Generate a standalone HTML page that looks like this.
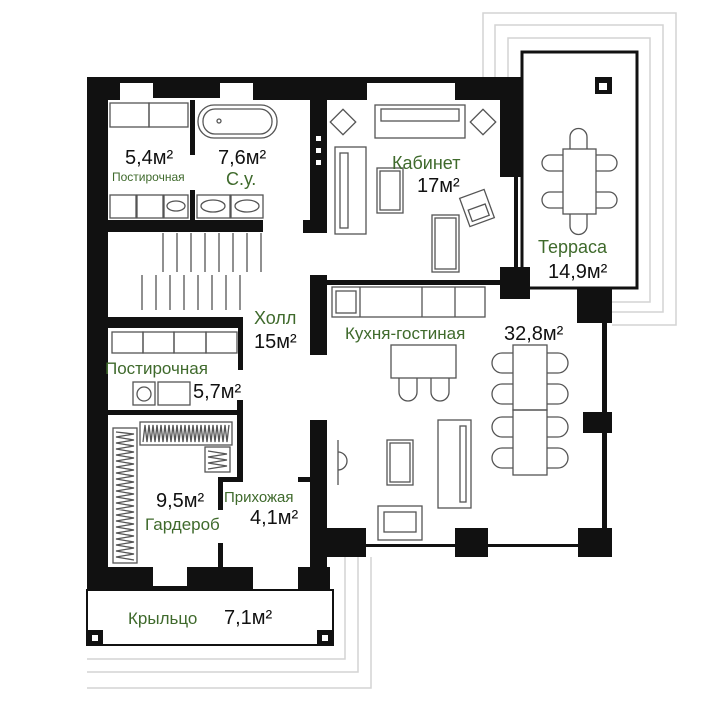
<!DOCTYPE html>
<html><head><meta charset="utf-8"><style>
html,body{margin:0;padding:0;background:#fff;}
svg{display:block;}
text{font-family:"Liberation Sans","DejaVu Sans",sans-serif;}
.g{fill:#3f6a2c;}
.k{fill:#111;}
</style></head><body>
<svg width="725" height="702" viewBox="0 0 725 702" xmlns="http://www.w3.org/2000/svg">
<g fill="none" stroke="#d4d4d4" stroke-width="1.5">
<path d="M483 77 V13 H676 V325 H612"/>
<path d="M495 77 V25 H663 V312 H612"/>
<path d="M508 77 V38 H650 V302 H612"/>
<path d="M87 659 H345 V557"/>
<path d="M87 672 H358 V557"/>
<path d="M87 688 H371 V557"/>
</g>
<g fill="#111">
<rect x="87" y="77" width="435" height="6"/>
<rect x="87" y="77" width="33" height="23"/>
<rect x="153" y="77" width="67" height="21"/>
<rect x="253" y="77" width="114" height="23"/>
<rect x="455" y="77" width="67" height="23"/>
<rect x="87" y="77" width="21" height="514"/>
<rect x="190" y="100" width="5" height="55"/>
<rect x="190" y="190" width="5" height="30"/>
<rect x="107" y="220" width="156" height="12"/>
<rect x="310" y="100" width="17" height="133"/>
<rect x="303" y="220" width="24" height="13"/>
<rect x="500" y="77" width="22" height="100"/>
<rect x="514" y="177" width="4" height="92"/>
<rect x="500" y="267" width="30" height="32"/>
<rect x="522" y="52" width="115" height="236" fill="none" stroke="#111" stroke-width="3"/>
<rect x="577" y="288" width="35" height="35"/>
<rect x="602" y="300" width="5" height="250"/>
<rect x="583" y="412" width="29" height="21"/>
<rect x="595" y="77" width="17" height="17"/>
<rect x="107" y="317" width="136" height="11"/>
<rect x="238" y="317" width="5" height="53"/>
<rect x="310" y="275" width="17" height="80"/>
<rect x="310" y="280" width="190" height="5"/>
<rect x="108" y="410" width="135" height="5"/>
<rect x="237" y="400" width="6" height="78"/>
<rect x="218" y="477" width="25" height="5"/>
<rect x="218" y="477" width="5" height="33"/>
<rect x="218" y="543" width="5" height="25"/>
<rect x="90" y="567" width="63" height="24"/>
<rect x="187" y="567" width="66" height="24"/>
<rect x="153" y="586" width="34" height="3"/>
<rect x="310" y="420" width="17" height="171"/>
<rect x="298" y="477" width="12" height="5"/>
<rect x="298" y="567" width="32" height="24"/>
<rect x="326" y="544" width="286" height="3"/>
<rect x="326" y="528" width="40" height="29"/>
<rect x="455" y="528" width="33" height="29"/>
<rect x="578" y="528" width="34" height="29"/>
<rect x="87" y="590" width="246" height="55" fill="none" stroke="#111" stroke-width="2"/>
<rect x="87" y="630" width="16" height="16"/>
<rect x="317" y="630" width="16" height="16"/>
</g>
<g fill="#fff">
<rect x="599" y="83" width="8" height="7"/>
<rect x="92" y="635" width="6" height="6"/>
<rect x="322" y="635" width="6" height="6"/>
<rect x="316" y="136" width="5" height="5"/><rect x="316" y="148" width="5" height="5"/><rect x="316" y="160" width="5" height="5"/>
<rect x="493" y="287" width="5" height="5"/><rect x="493" y="297" width="5" height="5"/>
</g>
<g fill="none" stroke="#555" stroke-width="1.3">
<rect x="110" y="103" width="39" height="24"/><rect x="149" y="103" width="39" height="24"/>
<rect x="198" y="105" width="79" height="33" rx="16"/><rect x="203" y="109" width="69" height="25" rx="12"/>
<circle cx="219" cy="121" r="2"/>
<rect x="110" y="195" width="26" height="23"/><rect x="137" y="195" width="26" height="23"/><rect x="164" y="195" width="24" height="23"/>
<ellipse cx="176" cy="206" rx="9" ry="5"/>
<rect x="197" y="195" width="33" height="23"/><rect x="231" y="195" width="32" height="23"/>
<ellipse cx="213" cy="206" rx="12" ry="6"/><ellipse cx="247" cy="206" rx="12" ry="6"/>
<path d="M163 233V272M177 233V272M191 233V272M205 233V272M219 233V272M233 233V272M247 233V272M261 233V272"/>
<path d="M142 275V310M156 275V310M170 275V310M184 275V310M198 275V310M212 275V310M226 275V310M240 275V310"/>
<rect x="375" y="105" width="90" height="33"/><rect x="381" y="109" width="78" height="12"/>
<rect x="335" y="147" width="31" height="87"/><rect x="340" y="153" width="8" height="75"/>
<rect x="334" y="113" width="18" height="18" transform="rotate(45 343 122)"/>
<rect x="474" y="113" width="18" height="18" transform="rotate(45 483 122)"/>
<rect x="377" y="168" width="26" height="45"/><rect x="380" y="171" width="20" height="39"/>
<rect x="432" y="215" width="27" height="57"/><rect x="435" y="218" width="21" height="51"/>
<g transform="rotate(-20 477 208)"><rect x="464" y="193" width="26" height="30"/><rect x="468" y="207" width="18" height="12"/></g>
<rect x="563" y="149" width="33" height="65"/>
<path d="M570 149V137a8.5 8.5 0 0 1 17 0V149"/><path d="M570 214V226a8.5 8.5 0 0 0 17 0V214"/>
<path d="M563 155H550a8 8 0 0 0 0 16H563"/><path d="M563 192H550a8 8 0 0 0 0 16H563"/>
<path d="M596 155H609a8 8 0 0 1 0 16H596"/><path d="M596 192H609a8 8 0 0 1 0 16H596"/>
<rect x="332" y="287" width="153" height="30"/>
<path d="M360 287V317M422 287V317M455 287V317"/>
<rect x="336" y="291" width="20" height="22"/>
<rect x="391" y="345" width="65" height="33"/>
<path d="M399 378V392a9 9 0 0 0 18 0V378M431 378V392a9 9 0 0 0 18 0V378"/>
<rect x="513" y="345" width="34" height="65"/><rect x="513" y="410" width="34" height="65"/>
<path d="M513 353H502a10 10 0 0 0 0 20H513M513 384H502a10 10 0 0 0 0 20H513M513 417H502a10 10 0 0 0 0 20H513M513 448H502a10 10 0 0 0 0 20H513"/>
<path d="M547 353H558a10 10 0 0 1 0 20H547M547 384H558a10 10 0 0 1 0 20H547M547 417H558a10 10 0 0 1 0 20H547M547 448H558a10 10 0 0 1 0 20H547"/>
<rect x="438" y="420" width="33" height="88"/><rect x="460" y="426" width="6" height="76"/>
<rect x="387" y="440" width="26" height="45"/><rect x="390" y="443" width="20" height="39"/>
<rect x="378" y="506" width="44" height="34"/><rect x="384" y="512" width="32" height="20"/>
<path d="M338 440V485"/><path d="M338 452a8 8 0 0 1 0 18"/>
<rect x="112" y="332" width="31" height="21"/><rect x="143" y="332" width="31" height="21"/><rect x="174" y="332" width="32" height="21"/><rect x="206" y="332" width="31" height="21"/>
<rect x="133" y="382" width="22" height="23"/><circle cx="144" cy="394" r="7"/>
<rect x="158" y="382" width="32" height="23"/>
<rect x="113" y="428" width="24" height="135"/>
<rect x="140" y="422" width="92" height="23"/>
<rect x="205" y="447" width="25" height="25"/>
<path d="M116 432L134 434L116 437L134 440L116 443L134 446L116 449L134 452L116 455L134 458L116 461L134 464L116 467L134 470L116 473L134 476L116 479L134 482L116 485L134 488L116 491L134 494L116 497L134 500L116 503L134 506L116 509L134 512L116 515L134 518L116 521L134 524L116 527L134 530L116 533L134 536L116 539L134 542L116 545L134 548L116 551L134 554L116 557L134 560"/>
<path d="M143 442L145 425L147 442L149 425L151 442L153 425L155 442L157 425L159 442L161 425L163 442L165 425L167 442L169 425L171 442L173 425L175 442L177 425L179 442L181 425L183 442L185 425L187 442L189 425L191 442L193 425L195 442L197 425L199 442L201 425L203 442L205 425L207 442L209 425L211 442L213 425L215 442L217 425L219 442L221 425L223 442L225 425L227 442L229 425"/>
<path d="M208 451L227 454L208 457L227 460L208 463L227 466L208 469"/>
</g>
<text x="125" y="164" font-size="20" class="k">5,4м²</text>
<text x="112" y="181" font-size="12" class="g">Постирочная</text>
<text x="218" y="164" font-size="20" class="k">7,6м²</text>
<text x="226" y="185" font-size="18" class="g">С.у.</text>
<text x="392" y="169" font-size="18" class="g">Кабинет</text>
<text x="417" y="192" font-size="20" class="k">17м²</text>
<text x="538" y="253" font-size="18" class="g">Терраса</text>
<text x="548" y="278" font-size="20" class="k">14,9м²</text>
<text x="254" y="324" font-size="18" class="g">Холл</text>
<text x="254" y="348" font-size="20" class="k">15м²</text>
<text x="345" y="339" font-size="17" class="g">Кухня-гостиная</text>
<text x="504" y="340" font-size="20" class="k">32,8м²</text>
<text x="105" y="374" font-size="17" class="g">Постирочная</text>
<text x="193" y="398" font-size="20" class="k">5,7м²</text>
<text x="156" y="507" font-size="20" class="k">9,5м²</text>
<text x="145" y="530" font-size="17" class="g">Гардероб</text>
<text x="224" y="502" font-size="15" class="g">Прихожая</text>
<text x="250" y="524" font-size="20" class="k">4,1м²</text>
<text x="128" y="624" font-size="17" class="g">Крыльцо</text>
<text x="224" y="624" font-size="20" class="k">7,1м²</text>
</svg>
</body></html>
